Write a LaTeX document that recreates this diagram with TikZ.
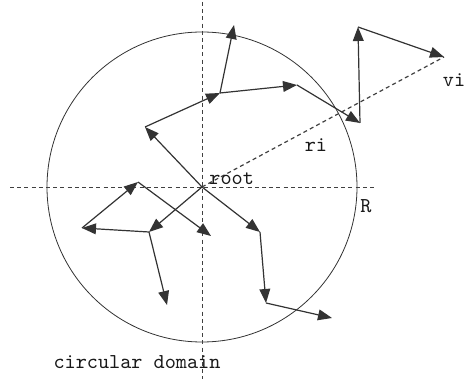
\documentclass[tikz,border=0pt]{standalone}
\usetikzlibrary{arrows.meta}

\begin{document}
\begin{tikzpicture}[x=0.5pt,y=-0.5pt, every node/.style={font=\ttfamily\fontsize{10.6}{12}\selectfont, inner sep=0pt, text=black!90},
    axis/.style={black!75, thin, dash pattern=on 2pt off 1.6pt},
    move/.style={black!80, semithick, -{Triangle[length=7pt,width=5.4pt]}}]
    \useasboundingbox (0,0) rectangle (467,379);
    % tree points (pixel grid of the figure)
    \coordinate (root) at (202,187);
    \foreach \n/\x/\y in {a1/145/127, a2/220/93, a3/234/25, a4/297/85, a5/360/123, a6/358/27, vi/444/57,
                          b1/260/232, b2/266/303, b3/332/318,
                          c1/149/232, c2/82/228, c3/167/305, c4/138/182, c5/211/236}{
        \coordinate (\n) at (\x,\y);
    }
    % domain
    \draw[black!80, thin] (root) circle[radius=155];
    \coordinate (top) at (202,2);
    \coordinate (bot) at (202,379);
    \coordinate (lft) at (10,187);
    \coordinate (rgt) at (377,187);
    \draw[axis] (top) -- (bot);
    \draw[axis] (lft) -- (rgt);
    \draw[axis, semithick] (root) -- (vi);
    % moves
    \foreach \i/\j in {root/a1, a1/a2, a2/a3, a2/a4, a4/a5, a5/a6, a6/vi,
                       root/b1, b1/b2, b2/b3,
                       root/c1, c1/c2, c1/c3, c2/c4, c4/c5}{
        \draw[move] (\i) -- (\j);
    }
    % labels
    \node[anchor=west] (lroot) at (209,179) {root};
    \node (lri) at (316,145) {ri};
    \node (lvi) at (454,80) {vi};
    \node (lR) at (366,206) {R};
    \node (ldom) at (137,362) {circular domain};
\end{tikzpicture}
\end{document}
